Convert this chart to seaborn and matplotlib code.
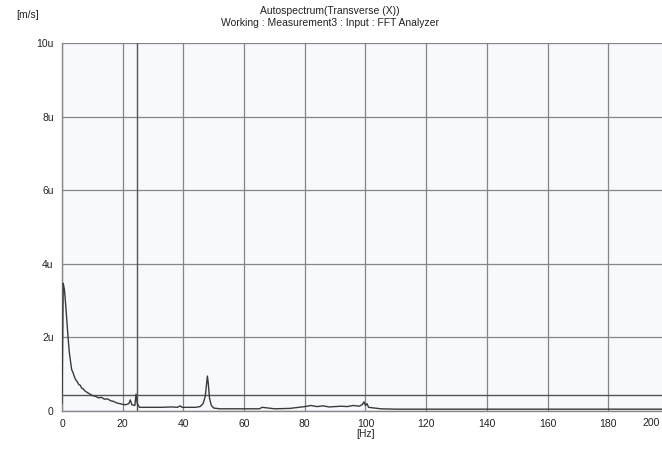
import matplotlib
matplotlib.use("Agg")
import matplotlib.pyplot as plt
import seaborn as sns
import pandas as pd

# Autospectrum of the transverse (X) channel, amplitude in micro m/s
freq_hz = [0, 0.4, 0.8, 1.2, 1.6, 2.0, 2.4, 2.8, 3.2, 3.6, 4.0, 4.5, 5.0, 5.5,
           6.0, 6.5, 7.0, 7.5, 8.0, 9.0, 10.0, 11.0, 12.0, 13.0, 14.0, 15.0,
           16.0, 17.0, 18.0, 19.0, 20.0, 21.0, 22.0, 22.5, 23.0, 23.5, 24.0,
           24.4, 24.8, 25.5, 27, 30, 33, 36, 38, 39, 39.5, 40, 42, 44, 45.5,
           46.5, 47.2, 47.6, 47.9, 48.2, 48.6, 49.2, 50, 52, 55, 60, 65, 66,
           70, 75, 78, 80, 82, 84, 86, 88, 90, 92, 94, 96, 98, 99, 99.5, 100,
           100.5, 101, 103, 105, 110, 120, 130, 140, 150, 160, 170, 180, 190,
           200]
amp_um_s = [0.2, 3.47, 3.3, 2.9, 2.45, 2.0, 1.6, 1.35, 1.12, 1.05, 0.95, 0.85,
            0.8, 0.72, 0.7, 0.62, 0.6, 0.55, 0.52, 0.47, 0.42, 0.4, 0.36, 0.37,
            0.32, 0.33, 0.28, 0.26, 0.22, 0.2, 0.18, 0.17, 0.2, 0.3, 0.17, 0.16,
            0.15, 0.46, 0.2, 0.1, 0.1, 0.1, 0.1, 0.11, 0.1, 0.14, 0.1, 0.1, 0.1,
            0.1, 0.12, 0.2, 0.4, 0.7, 0.95, 0.75, 0.35, 0.15, 0.08, 0.06, 0.06,
            0.06, 0.06, 0.1, 0.06, 0.07, 0.1, 0.12, 0.15, 0.12, 0.14, 0.11,
            0.12, 0.13, 0.12, 0.15, 0.13, 0.18, 0.25, 0.15, 0.2, 0.1, 0.08, 0.06,
            0.05, 0.05, 0.05, 0.05, 0.05, 0.05, 0.05, 0.05, 0.05, 0.05]

x_ticks = [0, 20, 40, 60, 80, 100, 120, 140, 160, 180, 200]
y_ticks = [0, 2, 4, 6, 8, 10]
y_tick_labels = ["0", "2u", "4u", "6u", "8u", "10u"]

# Cursor position
cursor_hz = 24.7
cursor_level = 0.44

sns.set_theme(style="white")
plt.rcParams["font.family"] = ["Liberation Sans", "DejaVu Sans"]

df = pd.DataFrame({"Frequency": freq_hz, "Amplitude": amp_um_s})

fig = plt.figure(figsize=(6.62, 4.51), dpi=100)
ax = fig.add_axes([62 / 662, 1 - 411 / 451, 607 / 662, 368 / 451])
ax.set_facecolor("#f7f9fc")

sns.lineplot(data=df, x="Frequency", y="Amplitude", ax=ax,
             color="#3a3a3a", linewidth=1.0, zorder=3)

ax.set_xlim(0, 200)
ax.set_ylim(0, 10)
ax.set_xticks(x_ticks)
# the last frequency label sits past the figure edge, so it is drawn separately
ax.set_xticklabels([str(t) for t in x_ticks[:-1]] + [""],
                   fontsize=7.5, color="#222222")
ax.set_yticks(y_ticks)
ax.set_yticklabels(y_tick_labels, fontsize=7.5, color="#222222")
ax.tick_params(axis="both", length=0, pad=6)

ax.grid(True, color="#858585", linewidth=0.9)
ax.axvline(cursor_hz, color="#555555", linewidth=1.0, zorder=2)
ax.axhline(cursor_level, color="#555555", linewidth=1.0, zorder=2)

for side in ["top", "right"]:
    ax.spines[side].set_visible(False)
for side in ["left", "bottom"]:
    ax.spines[side].set_color("#888888")
    ax.spines[side].set_linewidth(1.0)

ax.set_xlabel("[Hz]", fontsize=7.5, color="#222222", labelpad=0)
ax.set_ylabel("")

fig.text(660 / 662, 1 - 423 / 451, str(x_ticks[-1]), ha="right", va="center",
         fontsize=7.5, color="#222222")
fig.text(330 / 662, 1 - 11 / 451, "Autospectrum(Transverse (X))",
         ha="center", va="center", fontsize=7.5, color="#222222")
fig.text(330 / 662, 1 - 23 / 451, "Working : Measurement3 : Input : FFT Analyzer",
         ha="center", va="center", fontsize=7.5, color="#222222")
fig.text(28 / 662, 1 - 15 / 451, "[m/s]", ha="center", va="center",
         fontsize=7.5, color="#222222")

fig.savefig("out.png", dpi=100)
